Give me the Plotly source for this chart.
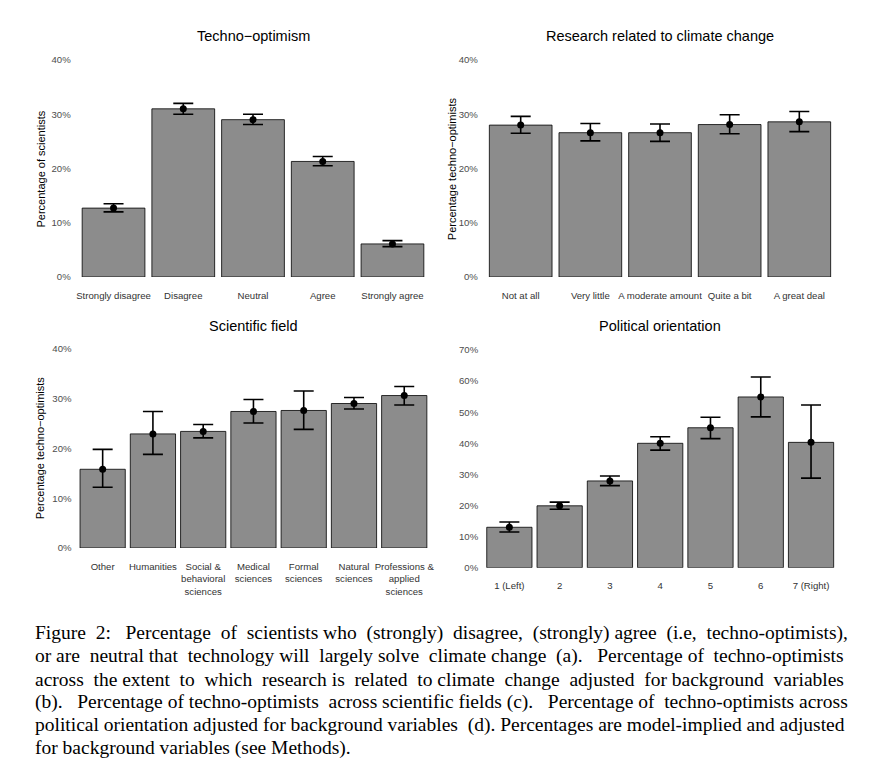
import plotly.graph_objects as go

# ---------------- data (percent) ----------------
a_cats = ["Strongly disagree", "Disagree", "Neutral", "Agree", "Strongly agree"]
a_vals = [12.7, 31.0, 29.0, 21.3, 6.1]
a_low = [12.0, 30.0, 28.1, 20.5, 5.6]
a_high = [13.5, 32.0, 30.0, 22.2, 6.7]

b_cats = ["Not at all", "Very little", "A moderate amount", "Quite a bit", "A great deal"]
b_vals = [28.0, 26.6, 26.6, 28.1, 28.6]
b_low = [26.5, 25.1, 25.0, 26.4, 26.8]
b_high = [29.6, 28.3, 28.2, 29.9, 30.5]

c_cats = ["Other", "Humanities", "Social &<br>behavioral<br>sciences", "Medical<br>sciences",
          "Formal<br>sciences", "Natural<br>sciences", "Professions &<br>applied<br>sciences"]
c_vals = [15.8, 22.9, 23.4, 27.4, 27.6, 29.0, 30.6]
c_low = [12.2, 18.8, 22.1, 25.1, 23.8, 27.9, 28.7]
c_high = [19.8, 27.4, 24.8, 29.8, 31.5, 30.2, 32.4]

d_cats = ["1 (Left)", "2", "3", "4", "5", "6", "7 (Right)"]
d_vals = [13.0, 19.9, 27.9, 40.0, 45.0, 54.9, 40.3]
d_low = [11.5, 18.8, 26.4, 37.8, 41.5, 48.5, 28.8]
d_high = [14.7, 21.1, 29.5, 42.1, 48.4, 61.3, 52.3]

titles = ["Techno\u2212optimism", "Research related to climate change",
          "Scientific field", "Political orientation"]
ytitles = ["Percentage of scientists", "Percentage techno\u2212optimists",
           "Percentage techno\u2212optimists", None]
yticks_ab = [0, 10, 20, 30, 40]
yticks_ab_text = ["0%", "10%", "20%", "30%", "40%"]
yticks_d = [0, 10, 20, 30, 40, 50, 60, 70]
yticks_d_text = ["0%", "10%", "20%", "30%", "40%", "50%", "60%", "70%"]

caption_lines = [
    "Figure 2:  Percentage of scientists who (strongly) disagree, (strongly) agree (i.e, techno-optimists),",
    "or are neutral that technology will largely solve climate change (a).  Percentage of techno-optimists",
    "across the extent to which research is related to climate change adjusted for background variables",
    "(b).  Percentage of techno-optimists across scientific fields (c).  Percentage of techno-optimists across",
    "political orientation adjusted for background variables (d). Percentages are model-implied and adjusted",
    "for background variables (see Methods).",
]
# extra (non-breaking) spaces per line to imitate the justified caption block
caption_extra_spaces = [9, 7, 10, 4, 1, 0]

# ---------------- layout geometry ----------------
# page body has an 8px margin: figure is drawn 8px in from the window's top-left
OFF = 8
W, H = 872 - 2 * OFF, 775 - 2 * OFF
BAR_FILL = "#8C8C8C"
FONT = "Liberation Sans"


def fx(px):
    return (px - OFF) / W


def fy(px):
    return 1 - (px - OFF) / H


def justify(line, extra):
    words = line.split(" ")
    gaps = len(words) - 1
    if gaps <= 0 or extra <= 0:
        return line
    add = [0] * gaps
    for k in range(extra):
        add[int((k + 0.5) * gaps / extra)] += 1
    out = words[0]
    for g in range(gaps):
        out += " " + "\u00a0" * add[g] + words[g + 1]
    return out


panels = [
    dict(cats=a_cats, vals=a_vals, low=a_low, high=a_high, x=(71.7, 434.3), y=(60, 277),
         ymax=40, ticks=yticks_ab, ticktext=yticks_ab_text),
    dict(cats=b_cats, vals=b_vals, low=b_low, high=b_high, x=(478.9, 841.1), y=(60, 277),
         ymax=40, ticks=yticks_ab, ticktext=yticks_ab_text),
    dict(cats=c_cats, vals=c_vals, low=c_low, high=c_high, x=(72.5, 434.4), y=(348.7, 548),
         ymax=40, ticks=yticks_ab, ticktext=yticks_ab_text),
    dict(cats=d_cats, vals=d_vals, low=d_low, high=d_high, x=(479.2, 841.2), y=(350, 567.7),
         ymax=70, ticks=yticks_d, ticktext=yticks_d_text),
]
title_y = [36, 36, 326, 326]
ytitle_x = [40, 451.7, 40, None]

fig = go.Figure()
layout = dict(
    width=W, height=H, autosize=False,
    margin=dict(l=0, r=0, t=0, b=0, pad=0, autoexpand=False),
    paper_bgcolor="white", plot_bgcolor="white",
    showlegend=False,
    font=dict(family=FONT, color="black"),
)
annotations = []

for i, p in enumerate(panels):
    n = i + 1
    xa = "x" if n == 1 else f"x{n}"
    ya = "y" if n == 1 else f"y{n}"
    fig.add_trace(go.Bar(
        x=p["cats"], y=p["vals"], xaxis=xa, yaxis=ya, width=0.9,
        marker=dict(color=BAR_FILL, line=dict(color="black", width=0.8)),
        hoverinfo="skip",
    ))
    fig.add_trace(go.Scatter(
        x=p["cats"], y=p["vals"], xaxis=xa, yaxis=ya, mode="markers",
        marker=dict(color="black", size=7),
        error_y=dict(type="data", symmetric=False,
                     array=[h - v for h, v in zip(p["high"], p["vals"])],
                     arrayminus=[v - l for v, l in zip(p["vals"], p["low"])],
                     color="black", thickness=1.6, width=10),
        hoverinfo="skip",
    ))
    ncat = len(p["cats"])
    layout[f"xaxis{'' if n == 1 else n}"] = dict(
        domain=[fx(p["x"][0]), fx(p["x"][1])], anchor=ya, automargin=False,
        range=[-0.6, ncat - 0.4], showgrid=False, zeroline=False, showline=False,
        ticks="", tickangle=0, tickfont=dict(size=9.6, color="#333333", family=FONT),
        ticklabelstandoff=11, fixedrange=True,
    )
    layout[f"yaxis{'' if n == 1 else n}"] = dict(
        domain=[fy(p["y"][1]), fy(p["y"][0])], anchor=xa, automargin=False,
        range=[0, p["ymax"]], tickmode="array", tickvals=p["ticks"], ticktext=p["ticktext"],
        showgrid=False, zeroline=False, showline=False, ticks="",
        tickfont=dict(size=9.6, color="#4D4D4D", family=FONT), fixedrange=True,
    )
    annotations.append(dict(
        text=titles[i], x=fx((p["x"][0] + p["x"][1]) / 2), y=fy(title_y[i]),
        xref="paper", yref="paper", showarrow=False, xanchor="center", yanchor="middle",
        font=dict(size=14.5, family=FONT, color="black"),
    ))
    if ytitles[i]:
        annotations.append(dict(
            text=ytitles[i], x=fx(ytitle_x[i]), y=fy((p["y"][0] + p["y"][1]) / 2),
            xref="paper", yref="paper", showarrow=False, xanchor="center", yanchor="middle",
            textangle=-90, font=dict(size=11, family=FONT, color="black"),
        ))

line_y = [633, 656, 679, 702, 725, 748]
for txt, extra, ly in zip(caption_lines, caption_extra_spaces, line_y):
    annotations.append(dict(
        text=justify(txt, extra), x=fx(33), y=fy(ly), xref="paper", yref="paper",
        showarrow=False, xanchor="left", yanchor="middle", align="left",
        font=dict(size=19.5, family="Liberation Serif", color="black"),
    ))

layout["annotations"] = annotations
fig.update_layout(**layout)
fig.write_html("out.html", config={"displayModeBar": False})
